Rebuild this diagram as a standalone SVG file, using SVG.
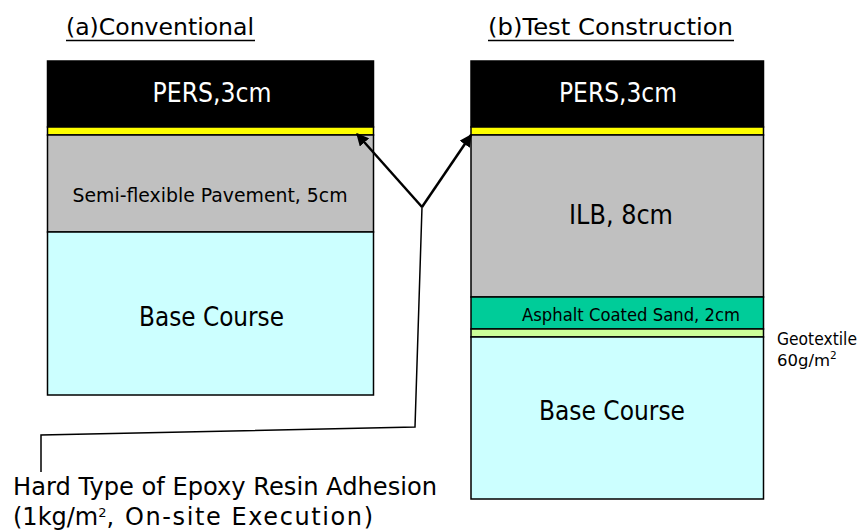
<svg xmlns="http://www.w3.org/2000/svg" width="866" height="532" viewBox="0 0 866 532">
  <style>
    text { font-family: "DejaVu Sans", Verdana, sans-serif; fill: #000; }
    .layer { stroke: #000; stroke-width: 1.5; }
    .pers { fill: #000; }
    .epoxy { fill: #FFFF00; }
    .grey { fill: #C0C0C0; }
    .base { fill: #CCFFFF; }
    .sand { fill: #00CC99; }
    .geo { fill: #CCFF99; }
    .white { fill: #fff; }
    .arrow { stroke: #000; stroke-width: 2.5; fill: none; }
    .leader { stroke: #000; stroke-width: 1.5; fill: none; }
  </style>
  <defs>
    <marker id="head" viewBox="0 0 10 10" refX="9" refY="5" markerWidth="5" markerHeight="5" orient="auto" markerUnits="strokeWidth">
      <path d="M0,0 L10,5 L0,10 z" fill="#000"/>
    </marker>
  </defs>
  <rect width="866" height="532" fill="#fff"/>

  <!-- Section titles -->
  <g id="title-a">
    <text x="66" y="35" font-size="23" textLength="188" lengthAdjust="spacingAndGlyphs">(a)Conventional</text>
    <line x1="66" y1="40.5" x2="255" y2="40.5" stroke="#000" stroke-width="1.5"/>
  </g>
  <g id="title-b">
    <text x="488" y="35" font-size="23" textLength="245" lengthAdjust="spacingAndGlyphs">(b)Test Construction</text>
    <line x1="488" y1="40.5" x2="734" y2="40.5" stroke="#000" stroke-width="1.5"/>
  </g>

  <!-- Conventional section -->
  <g id="conv-pers">
    <rect class="layer pers" x="47.5" y="61" width="326" height="66"/>
    <text class="white" x="212" y="102" font-size="26" text-anchor="middle" textLength="119" lengthAdjust="spacingAndGlyphs">PERS,3cm</text>
  </g>
  <g id="conv-epoxy">
    <rect class="layer epoxy" x="47.5" y="127" width="326" height="8"/>
  </g>
  <g id="conv-sfp">
    <rect class="layer grey" x="47.5" y="135" width="326" height="97"/>
    <text x="210" y="202" font-size="20" text-anchor="middle" textLength="275" lengthAdjust="spacingAndGlyphs">Semi-flexible Pavement, 5cm</text>
  </g>
  <g id="conv-base">
    <rect class="layer base" x="47.5" y="232" width="326" height="163"/>
    <text x="211.5" y="326" font-size="26" text-anchor="middle" textLength="145" lengthAdjust="spacingAndGlyphs">Base Course</text>
  </g>

  <!-- Test construction section -->
  <g id="test-pers">
    <rect class="layer pers" x="471" y="61" width="292.5" height="66"/>
    <text class="white" x="618" y="102" font-size="26" text-anchor="middle" textLength="118" lengthAdjust="spacingAndGlyphs">PERS,3cm</text>
  </g>
  <g id="test-epoxy">
    <rect class="layer epoxy" x="471" y="127" width="292.5" height="8"/>
  </g>
  <g id="test-ilb">
    <rect class="layer grey" x="471" y="135" width="292.5" height="162"/>
    <text x="621" y="224" font-size="26" text-anchor="middle" textLength="104" lengthAdjust="spacingAndGlyphs">ILB, 8cm</text>
  </g>
  <g id="test-sand">
    <rect class="layer sand" x="471" y="297" width="292.5" height="32"/>
    <text x="631" y="321" font-size="18" text-anchor="middle" textLength="218" lengthAdjust="spacingAndGlyphs">Asphalt Coated Sand, 2cm</text>
  </g>
  <g id="test-geotextile">
    <rect class="layer geo" x="471" y="329" width="292.5" height="8"/>
    <text x="777" y="345" font-size="17.5" textLength="80" lengthAdjust="spacingAndGlyphs">Geotextile</text>
    <text x="777" y="366" font-size="16.5">60g/m<tspan font-size="10.5" dy="-7">2</tspan></text>
  </g>
  <g id="test-base">
    <rect class="layer base" x="471" y="337" width="292.5" height="162"/>
    <text x="612" y="420" font-size="26" text-anchor="middle" textLength="146" lengthAdjust="spacingAndGlyphs">Base Course</text>
  </g>

  <!-- Callout for the epoxy resin layer -->
  <g id="connectors">
    <line class="arrow" x1="422" y1="207" x2="357" y2="134" marker-end="url(#head)"/>
    <line class="arrow" x1="422" y1="207" x2="471" y2="135" marker-end="url(#head)"/>
    <polyline class="leader" points="422,207 415,427 41,435 41,472"/>
  </g>
  <g id="epoxy-label">
    <text x="13" y="495" font-size="24.5" textLength="424" lengthAdjust="spacingAndGlyphs">Hard Type of Epoxy Resin Adhesion</text>
    <text x="13" y="525" font-size="24">(1kg/m<tspan font-size="13" dy="-8">2</tspan><tspan dy="8" letter-spacing="1.6">, On-site Execution)</tspan></text>
  </g>
</svg>
